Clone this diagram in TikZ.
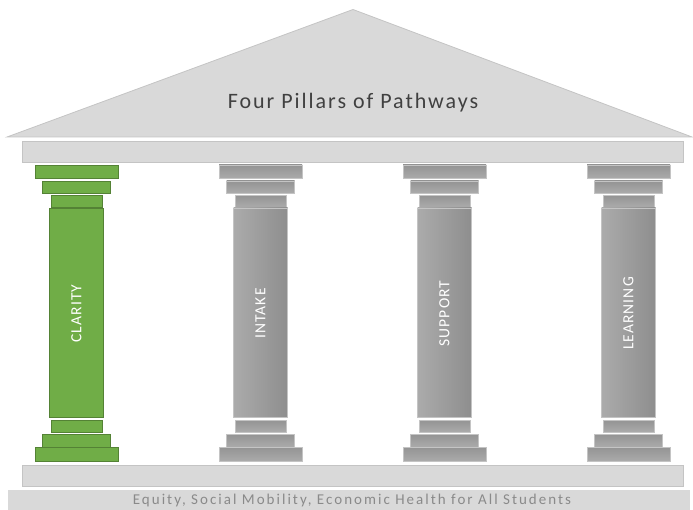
\documentclass[tikz,border=0pt]{standalone}
\usepackage{fontspec}
\setmainfont{Carlito}
\usepackage{tikz}
\usetikzlibrary{positioning, calc}

\definecolor{roofgray}{HTML}{D9D9D9}
\definecolor{roofline}{HTML}{C4C4C4}
\definecolor{pillargreen}{HTML}{70AD47}
\definecolor{greenline}{HTML}{548235}
\definecolor{pillardark}{HTML}{8E8E8E}
\definecolor{pillarlight}{HTML}{ABABAB}
\definecolor{titlegray}{HTML}{404040}
\definecolor{basetext}{HTML}{8A8A8A}

\begin{document}
\begin{tikzpicture}[
    x=1pt, y=-1pt,
    roof/.style={fill=roofgray, draw=roofline, line width=0.8pt},
    bar/.style={fill=roofgray, draw=roofline, line width=1pt},
    greenslab/.style={fill=pillargreen, draw=greenline, line width=0.8pt},
    greenshaft/.style={fill=pillargreen, draw=greenline, line width=0.8pt},
    grayslab/.style={top color=pillardark!95!white, bottom color=pillarlight, draw=roofline, line width=0.6pt},
    grayshaft/.style={left color=pillarlight, right color=pillardark, draw=roofline, line width=0.6pt},
    pillartext/.style={font=\fontsize{15.5}{18}\selectfont\addfontfeature{LetterSpace=7}, text=white, rotate=90},
    titletext/.style={font=\fontsize{22}{26}\selectfont\addfontfeature{LetterSpace=9}, text=titlegray},
    basestyle/.style={font=\fontsize{15}{17}\selectfont\addfontfeature{LetterSpace=13.5}, text=basetext}
]
    \useasboundingbox (0,0) rectangle (693,510);

    % Roof and entablature
    \coordinate (roofL) at (7,137);
    \coordinate (roofT) at (353,9.5);
    \coordinate (roofR) at (692,137);
    \filldraw[roof] (roofL) -- (roofT) -- (roofR) -- cycle;
    \node[titletext] (title) at (353,103) {Four Pillars of Pathways};
    \draw[bar] (22.5,142) rectangle (683.5,162.5);

    % Pillars
    \foreach \cx/\lbl/\name/\sl/\sh in {76.5/CLARITY/clarity/greenslab/greenshaft,
                                      260.5/INTAKE/intake/grayslab/grayshaft,
                                      444.5/SUPPORT/support/grayslab/grayshaft,
                                      628.5/LEARNING/learning/grayslab/grayshaft}{
        % capital
        \draw[\sl] (\cx-41.5,165) rectangle (\cx+41.5,178.7);
        \draw[\sl] (\cx-34,181) rectangle (\cx+34,193.3);
        \draw[\sl] (\cx-25.5,195.3) rectangle (\cx+25.5,207.3);
        % shaft
        \draw[\sh] (\cx-27,208) rectangle (\cx+27,417.5);
        \node[pillartext] (\name) at (\cx,313.5) {\lbl};
        % plinth
        \draw[\sl] (\cx-25.5,420) rectangle (\cx+25.5,432.3);
        \draw[\sl] (\cx-34,434.3) rectangle (\cx+34,447);
        \draw[\sl] (\cx-41.5,447) rectangle (\cx+41.5,461.3);
    }

    % Base
    \draw[bar] (22.5,465.5) rectangle (683.5,486.5);
    \fill[roofgray] (8,490) rectangle (690,510);
    \node[basestyle] (base) at (352,500) {Equity, Social Mobility, Economic Health for All Students};
\end{tikzpicture}
\end{document}
